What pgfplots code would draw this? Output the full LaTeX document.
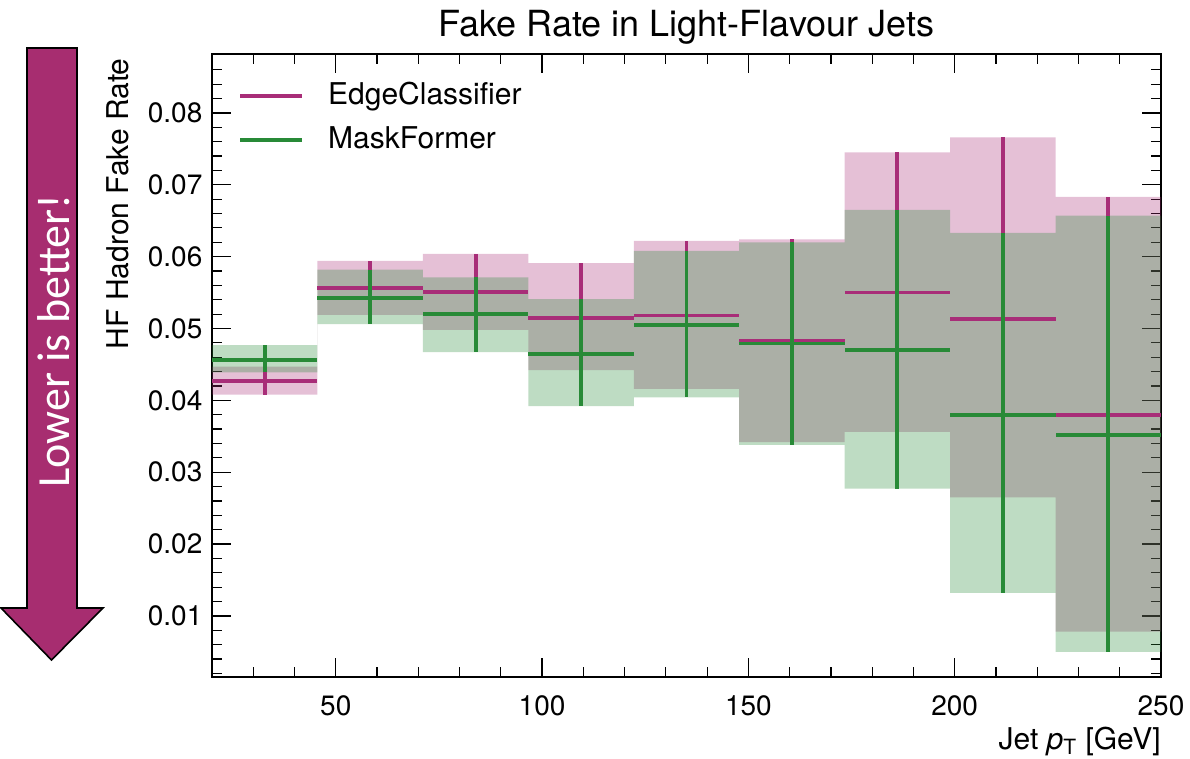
\documentclass[border=0pt]{standalone}
\usepackage{fontspec}
\setmainfont{TeX Gyre Heros}
\newfontfamily\calib{Carlito}
\usepackage{pgfplots}
\pgfplotsset{compat=1.18}
\usepackage{pgfplotstable}
\usepgfplotslibrary{fillbetween}
\usetikzlibrary{calc}

\definecolor{ecm}{RGB}{168,45,120}
\definecolor{mfg}{RGB}{40,138,55}
\definecolor{arrowc}{RGB}{167,45,112}

% bin centres, central value, lower and upper edge of the band
\pgfplotstableread{
x c lo hi
32.778 0.0427 0.0408 0.0447
58.333 0.0556 0.0519 0.0594
83.889 0.0551 0.0498 0.0604
109.444 0.0515 0.0442 0.0591
135.000 0.0518 0.0416 0.0622
160.556 0.0483 0.0342 0.0624
186.111 0.0550 0.0356 0.0745
211.667 0.0513 0.0265 0.0766
237.222 0.0380 0.0078 0.0683
}\ecdata
\pgfplotstableread{
x c lo hi
32.778 0.0456 0.0439 0.0477
58.333 0.0542 0.0506 0.0582
83.889 0.0520 0.0467 0.0571
109.444 0.0464 0.0392 0.0541
135.000 0.0505 0.0404 0.0608
160.556 0.0479 0.0338 0.0620
186.111 0.0470 0.0277 0.0665
211.667 0.0380 0.0132 0.0633
237.222 0.0352 0.0050 0.0657
}\mfdata
% band edges (left bin edges, last value repeated at 250)
\pgfplotstableread{
x lo hi
20 0.0408 0.0447
45.556 0.0519 0.0594
71.111 0.0498 0.0604
96.667 0.0442 0.0591
122.222 0.0416 0.0622
147.778 0.0342 0.0624
173.333 0.0356 0.0745
198.889 0.0265 0.0766
224.444 0.0078 0.0683
250 0.0078 0.0683
}\ecband
\pgfplotstableread{
x lo hi
20 0.0439 0.0477
45.556 0.0506 0.0582
71.111 0.0467 0.0571
96.667 0.0392 0.0541
122.222 0.0404 0.0608
147.778 0.0338 0.0620
173.333 0.0277 0.0665
198.889 0.0132 0.0633
224.444 0.0050 0.0657
250 0.0050 0.0657
}\mfband

\begin{document}
\begin{tikzpicture}
\begin{axis}[
  at={(0,0)}, anchor=south west,
  width=474.5pt, height=311.5pt, scale only axis,
  xmin=20, xmax=250, ymin=0.0015, ymax=0.0882,
  xtick={50,100,150,200,250},
  minor xtick={30,40,60,70,80,90,110,120,130,140,160,170,180,190,210,220,230,240},
  ytick={0.01,0.02,0.03,0.04,0.05,0.06,0.07,0.08},
  minor ytick={0.002,0.004,0.006,0.008,0.012,0.014,0.016,0.018,0.022,0.024,0.026,0.028,0.032,0.034,0.036,0.038,0.042,0.044,0.046,0.048,0.052,0.054,0.056,0.058,0.062,0.064,0.066,0.068,0.072,0.074,0.076,0.078,0.082,0.084,0.086},
  tick align=inside,
  major tick length=9.5pt, minor tick length=5pt,
  every tick/.style={black, line width=0.6pt},
  axis line style={line width=0.8pt},
  scaled y ticks=false,
  /pgf/number format/assume math mode=true,
  yticklabel style={/pgf/number format/fixed, /pgf/number format/precision=2, /pgf/number format/fixed zerofill},
  tick label style={font=\fontsize{14}{16}\selectfont},
  xticklabel shift=6pt, yticklabel shift=1.3pt,
  title={Fake Rate in Light-Flavour Jets},
  title style={font=\fontsize{18}{21}\selectfont, at={(0.5,1)}, anchor=south, inner sep=0pt, yshift=-1.3pt},
  xlabel={Jet \textit{p}\textsubscript{T} [GeV]},
  ylabel={HF Hadron Fake Rate},
  label style={font=\fontsize{15}{18}\selectfont},
  xlabel style={at={($(rel axis cs:1,0)+(0pt,-24.8pt)$)}, anchor=north east, inner sep=0pt},
  ylabel style={at={($(rel axis cs:0,1)+(-41.5pt,-2pt)$)}, anchor=south east, inner sep=0pt},
  legend style={draw=none, fill=none, at={(0,1)}, anchor=north west, xshift=10pt, yshift=-10pt,
    font=\fontsize{15}{18}\selectfont, row sep=4pt,
    nodes={inner sep=2pt, text height=11pt, text depth=3pt}},
  legend cell align=left,
  legend image code/.code={\draw[#1] (0pt,0pt) -- (31pt,0pt); \path (41pt,0pt);},
]
% bands
\addplot[draw=none, name path=ecU, const plot, forget plot] table[x=x, y=hi] {\ecband};
\addplot[draw=none, name path=ecL, const plot, forget plot] table[x=x, y=lo] {\ecband};
\addplot[fill=ecm, fill opacity=0.3, draw=none, forget plot] fill between[of=ecU and ecL];
\addplot[draw=none, name path=mfU, const plot, forget plot] table[x=x, y=hi] {\mfband};
\addplot[draw=none, name path=mfL, const plot, forget plot] table[x=x, y=lo] {\mfband};
\addplot[fill=mfg, fill opacity=0.3, draw=none, forget plot] fill between[of=mfU and mfL];
% error bars
\addplot[draw=none, mark=none, forget plot,
  error bars/.cd, x dir=both, x fixed=12.778, y dir=both, y explicit, error mark=none,
  error bar style={draw=ecm, line width=1.9pt}]
  table[x=x, y=c, y error plus expr=\thisrow{hi}-\thisrow{c}, y error minus expr=\thisrow{c}-\thisrow{lo}] {\ecdata};
\addplot[draw=none, mark=none, forget plot,
  error bars/.cd, x dir=both, x fixed=12.778, y dir=both, y explicit, error mark=none,
  error bar style={draw=mfg, line width=1.9pt}]
  table[x=x, y=c, y error plus expr=\thisrow{hi}-\thisrow{c}, y error minus expr=\thisrow{c}-\thisrow{lo}] {\mfdata};
\addlegendimage{ecm, line width=1.9pt}
\addlegendentry{EdgeClassifier}
\addlegendimage{mfg, line width=1.9pt}
\addlegendentry{MaskFormer}
\end{axis}
% annotation arrow
\filldraw[fill=arrowc, draw=black, line width=0.8pt, line join=miter]
  (-92.5pt,314.5pt) -- (-67.5pt,314.5pt) -- (-67.5pt,34.5pt) -- (-54.5pt,34.5pt)
  -- (-80.25pt,8.5pt) -- (-105.5pt,34.5pt) -- (-92.5pt,34.5pt) -- cycle;
\node[rotate=90, text=white, font=\calib\fontsize{23}{26}\selectfont, inner sep=0pt] at (-79pt,168pt) {Lower is better!};
\pgfresetboundingbox
\path[use as bounding box] (-106pt,-41pt) rectangle (489pt,338.5pt);
\end{tikzpicture}
\end{document}
